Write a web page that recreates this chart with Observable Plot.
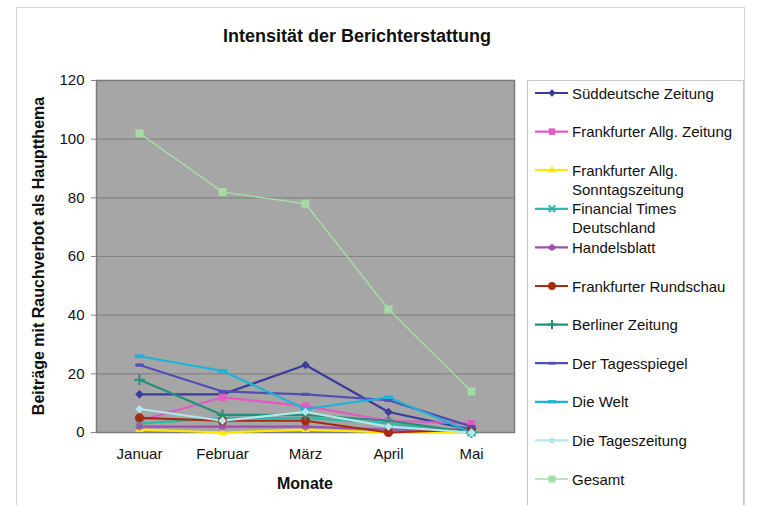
<!DOCTYPE html>
<html><head><meta charset="utf-8">
<script src="https://cdn.jsdelivr.net/npm/d3@7"></script>
<script src="https://cdn.jsdelivr.net/npm/@observablehq/plot@0.6"></script>
<style>
html,body{margin:0;padding:0;background:#fff;}
#chart{position:relative;width:765px;height:505px;overflow:hidden;}
</style>
</head><body><div id="chart"></div>
<script>
const months = ["Januar", "Februar", "März", "April", "Mai"];
const seriesNames = [
  "Süddeutsche Zeitung", "Frankfurter Allg. Zeitung", "Frankfurter Allg. Sonntagszeitung",
  "Financial Times Deutschland", "Handelsblatt", "Frankfurter Rundschau", "Berliner Zeitung",
  "Der Tagesspiegel", "Die Welt", "Die Tageszeitung", "Gesamt"
];
const legendLabels = [
  ["Süddeutsche Zeitung"], ["Frankfurter Allg. Zeitung"], ["Frankfurter Allg.", "Sonntagszeitung"],
  ["Financial Times", "Deutschland"], ["Handelsblatt"], ["Frankfurter Rundschau"], ["Berliner Zeitung"],
  ["Der Tagesspiegel"], ["Die Welt"], ["Die Tageszeitung"], ["Gesamt"]
];
const sueddeutsche = [13, 13, 23, 7, 1];
const faz = [4, 12, 9, 4, 3];
const fas = [1, 0, 1, 0, 0];
const ftd = [3, 5, 5, 3, 0];
const handelsblatt = [2, 2, 2, 1, 1];
const rundschau = [5, 4, 4, 0, 1];
const berliner = [18, 6, 6, 4, 0];
const tagesspiegel = [23, 14, 13, 11, 2];
const welt = [26, 21, 8, 12, 0];
const taz = [8, 4, 7, 2, 0];
const gesamt = [102, 82, 78, 42, 14];
const yTicks = [0, 20, 40, 60, 80, 100, 120];

const values = [sueddeutsche, faz, fas, ftd, handelsblatt, rundschau, berliner, tagesspiegel, welt, taz, gesamt];
const colors = ["#3c3c9c", "#e05cc4", "#ffe800", "#2fb8a8", "#9c50b0", "#a82a10", "#24907c", "#5050b4", "#1cb4d8", "#b4e8e8", "#a4dca4"];

const dash = {draw(ctx, size){ const w = Math.sqrt(size)*1.3, h = Math.sqrt(size)*0.5; ctx.rect(-w/2, -h/2, w, h); }};
const symbols = ["diamond2", "square", "triangle2", "times", "asterisk", "circle", "plus", dash, dash, "diamond2", "square"];
const sizes = [48, 56, 50, 40, 40, 64, 40, 40, 56, 44, 64];
const widths = [2.2, 2.2, 2.2, 2.2, 2.2, 2.2, 2.2, 2.2, 2.2, 2.2, 1.5];
const isStroke = s => s === "times" || s === "asterisk" || s === "plus";

const data = [];
seriesNames.forEach((s, i) => months.forEach((m, j) => data.push({series: s, idx: i, month: m, value: values[i][j]})));

const lineMarks = [];
const dotMarks = [];
seriesNames.forEach((s, i) => {
  const d = data.filter(r => r.idx === i);
  lineMarks.push(Plot.line(d, {x: "month", y: "value", stroke: colors[i], strokeWidth: widths[i]}));
  const sym = symbols[i];
  dotMarks.push(Plot.dot(d, {x: "month", y: "value", symbol: () => sym, r: Math.sqrt(sizes[i]/Math.PI),
    fill: isStroke(sym) ? "none" : colors[i], stroke: isStroke(sym) ? colors[i] : "none", strokeWidth: 2}));
});

const font = "'Liberation Sans', Arial, sans-serif";
const chart = Plot.plot({
  width: 765, height: 505,
  marginLeft: 96, marginRight: 251, marginTop: 80, marginBottom: 73,
  style: {fontFamily: font, fontSize: "15px", color: "#111", background: "#fff"},
  x: {type: "point", domain: months, padding: 0.5, label: null},
  y: {domain: [0, 120], label: null},
  symbol: {type: "identity"},
  marks: [
    Plot.frame({fill: "#a6a6a6", stroke: "none"}),
    Plot.ruleY(yTicks, {stroke: "#848484", strokeWidth: 1.2}),
    Plot.frame({stroke: "#7a7a7a", strokeWidth: 1.5}),
    Plot.axisY({ticks: yTicks, tickSize: 5, tickPadding: 7, stroke: "#888", fontSize: 15, label: null}),
    Plot.axisX({tickSize: 0, tickPadding: 16, fontSize: 15, label: null}),
    ...lineMarks,
    ...dotMarks
  ]
});
document.getElementById("chart").appendChild(chart);

const svg = d3.select(chart);
svg.insert("rect", ":first-child").attr("x", 16.5).attr("y", 7.5).attr("width", 728).attr("height", 520)
  .attr("fill", "none").attr("stroke", "#d4d4d4");
svg.append("text").attr("x", 357).attr("y", 42).attr("text-anchor", "middle")
  .attr("font-family", font).attr("font-size", 18).attr("font-weight", "bold").attr("fill", "#111").text("Intensität der Berichterstattung");
svg.append("text").attr("transform", "translate(44,256) rotate(-90)").attr("text-anchor", "middle")
  .attr("font-family", font).attr("font-size", 16).attr("font-weight", "bold").attr("fill", "#111").text("Beiträge mit Rauchverbot als Hauptthema");
svg.append("text").attr("x", 305).attr("y", 489).attr("text-anchor", "middle")
  .attr("font-family", font).attr("font-size", 16).attr("font-weight", "bold").attr("fill", "#111").text("Monate");

const lg = svg.append("g");
lg.append("rect").attr("x", 527.5).attr("y", 80.5).attr("width", 216).attr("height", 440)
  .attr("fill", "#fff").attr("stroke", "#c8c8c8");
const map = {diamond2: d3.symbolDiamond2, square: d3.symbolSquare, triangle2: d3.symbolTriangle2, times: d3.symbolTimes,
  asterisk: d3.symbolAsterisk, circle: d3.symbolCircle, plus: d3.symbolPlus};
legendLabels.forEach((lines, i) => {
  const y = 93 + i * 38.6;
  lg.append("line").attr("x1", 535).attr("x2", 568).attr("y1", y).attr("y2", y)
    .attr("stroke", colors[i]).attr("stroke-width", widths[i]);
  const sym = symbols[i];
  const t = typeof sym === "string" ? map[sym] : sym;
  lg.append("path").attr("d", d3.symbol(t, sizes[i] * 0.75)()).attr("transform", `translate(552,${y})`)
    .attr("fill", isStroke(sym) ? "none" : colors[i]).attr("stroke", isStroke(sym) ? colors[i] : "none").attr("stroke-width", 2);
  lines.forEach((ln, k) => {
    lg.append("text").attr("x", 572).attr("y", y + 5.5 + k * 19).attr("text-anchor", "start")
      .attr("font-family", font).attr("font-size", 15).attr("fill", "#111").text(ln);
  });
});
</script>
</body></html>
